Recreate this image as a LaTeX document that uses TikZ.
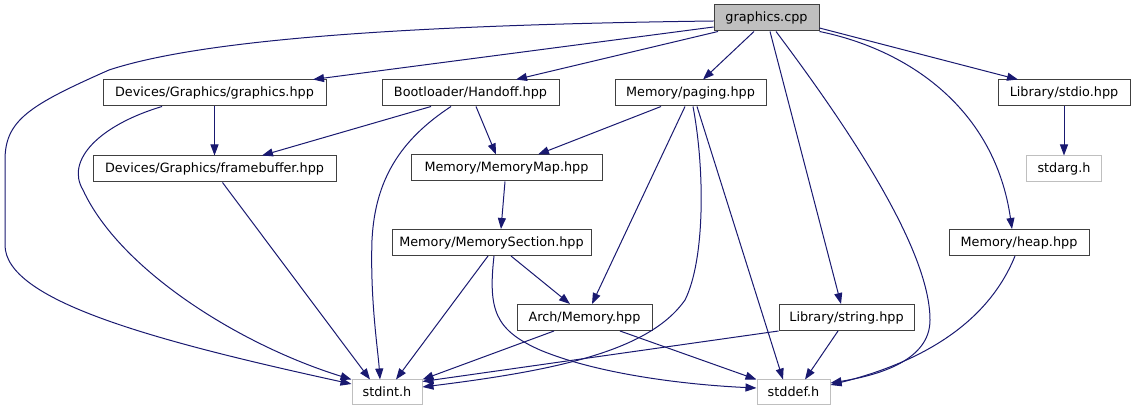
\documentclass[tikz,border=0pt]{standalone}
\usepackage{fontspec}
\setmainfont{DejaVu Sans}
\definecolor{edgeblue}{RGB}{25,25,112}
\definecolor{rootgray}{RGB}{191,191,191}
\definecolor{boxline}{RGB}{64,64,64}
\usetikzlibrary{arrows.meta,positioning}
\tikzset{
    filebox/.style={draw=boxline, line width=1pt, minimum height=26pt, inner sep=0pt, font=\fontsize{12.8}{15}\selectfont},
    rootbox/.style={filebox, fill=rootgray},
    extbox/.style={filebox, draw=rootgray},
    incarrow/.style={-{Triangle[length=11pt,width=8pt]}, draw=edgeblue, fill=none, line width=1pt}
}

\begin{document}
\begin{tikzpicture}[x=1pt, y=-1pt, node distance=49pt]
    \useasboundingbox (0,0) rectangle (1135,411);

    % first row
    \node[rootbox, minimum width=105pt] (cpp) at (766.5,18) {graphics.cpp};
    \node[filebox, minimum width=223pt] (ghpp) at (214.5,93) {Devices/Graphics/graphics.hpp};
    \node[filebox, minimum width=177pt] (handoff) at (470.5,93) {Bootloader/Handoff.hpp};
    \node[filebox, minimum width=151pt] (paging) at (690.5,93) {Memory/paging.hpp};
    \node[filebox, minimum width=132pt] (stdio) at (1064,93) {Library/stdio.hpp};

    % second row
    \node[filebox, minimum width=243pt, below=of ghpp] (fb) {Devices/Graphics/framebuffer.hpp};
    \node[filebox, minimum width=191pt] (mmap) at (506.5,168) {Memory/MemoryMap.hpp};
    \node[extbox, minimum width=75pt, below=of stdio] (stdarg) {stdarg.h};

    % lower rows
    \node[filebox, minimum width=199pt] (msec) at (491.5,242.5) {Memory/MemorySection.hpp};
    \node[filebox, minimum width=140pt] (heap) at (1019,242.5) {Memory/heap.hpp};
    \node[filebox, minimum width=135pt] (arch) at (584.5,317.5) {Arch/Memory.hpp};
    \node[filebox, minimum width=135pt] (string) at (846.5,317.5) {Library/string.hpp};
    \node[extbox, minimum width=70pt, minimum height=24pt] (stdint) at (387,392) {stdint.h};
    \node[extbox, minimum width=73pt, minimum height=24pt] (stddef) at (793.5,392) {stddef.h};

    % graphics.cpp includes
    \draw[incarrow] ([yshift=-3pt]cpp.west) .. controls (400,25) and (200,40) .. (109,70)
        .. controls (30,105) and (5,120) .. (5,160) -- (5,245)
        .. controls (5,300) and (150,340) .. ([yshift=8pt]stdint.west);
    \draw[incarrow] ([yshift=-9pt]cpp.west) -- ([xshift=98.5pt]ghpp.north);
    \draw[incarrow] ([xshift=-48.5pt]cpp.south) -- ([xshift=45.5pt]handoff.north);
    \draw[incarrow] ([xshift=-12.5pt]cpp.south) -- ([xshift=12.5pt]paging.north);
    \draw[incarrow] ([xshift=3.5pt]cpp.south) -- ([xshift=-5.5pt]string.north);
    \draw[incarrow] ([xshift=9.5pt]cpp.south) .. controls (850,130) and (930,250) .. (930,320)
        .. controls (930,360) and (880,375) .. ([yshift=9pt]stddef.east);
    \draw[incarrow] (cpp.south east) .. controls (910,50) and (995,110) .. ([xshift=-7pt]heap.north);
    \draw[incarrow] ([yshift=-10pt]cpp.east) -- ([xshift=-46pt]stdio.north);

    % second level
    \draw[incarrow] (ghpp) -- (fb);
    \draw[incarrow] ([xshift=-52.5pt]ghpp.south) .. controls (100,125) and (65,160) .. (83,190)
        .. controls (120,270) and (240,345) .. (stdint.north west);
    \draw[incarrow] ([xshift=-39.5pt]handoff.south) -- ([xshift=47.5pt]fb.north);
    \draw[incarrow] ([xshift=5.5pt]handoff.south) -- ([xshift=-10.5pt]mmap.north);
    \draw[incarrow] ([xshift=-19.5pt]handoff.south) .. controls (400,140) and (375,180) .. (372,240)
        .. controls (370,300) and (378,350) .. ([xshift=-7pt]stdint.north);
    \draw[incarrow] ([xshift=8pt]fb.south) -- ([xshift=-17pt]stdint.north);
    \draw[incarrow] ([xshift=-29.5pt]paging.south) -- ([xshift=31.5pt]mmap.north);
    \draw[incarrow] ([xshift=-5.5pt]paging.south) -- ([xshift=7.5pt]arch.north);
    \draw[incarrow] ([xshift=2.5pt]paging.south) .. controls (705,170) and (705,260) .. (685,300)
        .. controls (650,350) and (560,370) .. ([yshift=5pt]stdint.east);
    \draw[incarrow] ([xshift=6.5pt]paging.south) -- ([xshift=-10.5pt]stddef.north);
    \draw[incarrow] (stdio) -- (stdarg);

    % memory headers
    \draw[incarrow] ([xshift=-1.5pt]mmap.south) -- ([xshift=9.5pt]msec.north);
    \draw[incarrow] ([xshift=-3.5pt]msec.south) -- ([xshift=9pt]stdint.north);
    \draw[incarrow] ([xshift=19.5pt]msec.south) -- ([xshift=-14.5pt]arch.north);
    \draw[incarrow] ([xshift=2.5pt]msec.south) .. controls (488,310) and (495,330) .. (540,350)
        .. controls (600,375) and (690,385) .. ([yshift=4pt]stddef.west);
    \draw[incarrow] ([xshift=-30.5pt]arch.south) -- (stdint.north east);
    \draw[incarrow] ([xshift=35.5pt]arch.south) -- (stddef.north west);
    \draw[incarrow] (string.south west) -- ([yshift=-2pt]stdint.north east);
    \draw[incarrow] ([xshift=-8.5pt]string.south) -- ([xshift=11.5pt]stddef.north);
    \draw[incarrow] ([xshift=-4pt]heap.south) .. controls (985,330) and (910,365) .. ([yshift=7pt]stddef.east);
\end{tikzpicture}
\end{document}
